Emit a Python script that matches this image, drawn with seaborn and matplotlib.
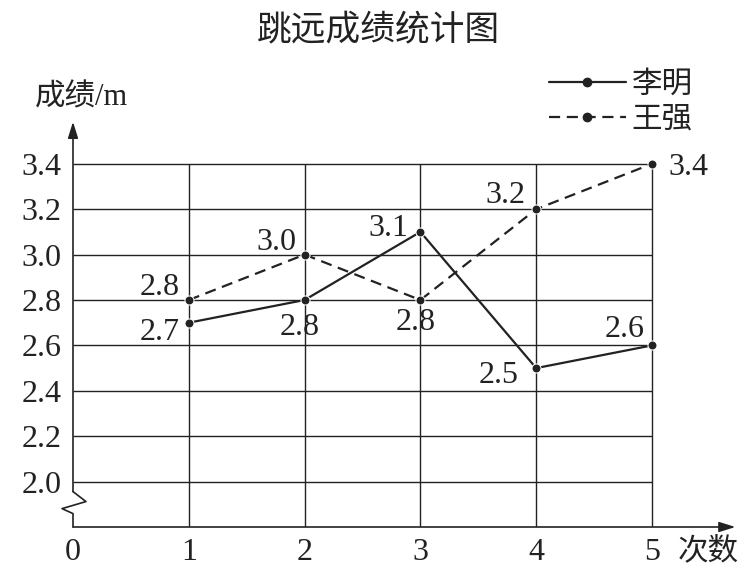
import matplotlib
matplotlib.use("Agg")
import matplotlib.pyplot as plt
import seaborn as sns
import pandas as pd
from matplotlib.lines import Line2D

# data
trials = [1, 2, 3, 4, 5]
li_ming = [2.7, 2.8, 3.1, 2.5, 2.6]
wang_qiang = [2.8, 3.0, 2.8, 3.2, 3.4]
names = ["李明", "王强"]
y_ticks = [2.0, 2.2, 2.4, 2.6, 2.8, 3.0, 3.2, 3.4]
y_tick_labels = ["2.0", "2.2", "2.4", "2.6", "2.8", "3.0", "3.2", "3.4"]
x_ticks = [0, 1, 2, 3, 4, 5]

df = pd.DataFrame({
    "次数": trials * 2,
    "成绩": li_ming + wang_qiang,
    "姓名": [names[0]] * 5 + [names[1]] * 5,
})

sns.set_theme(style="white")
plt.rcParams["font.family"] = ["Liberation Serif", "Noto Sans CJK SC"]

ink = "#222222"
fig = plt.figure(figsize=(7.56, 5.71), dpi=100)
ax = fig.add_axes([73 / 756, 44 / 571, 667 / 756, 417 / 571])
ax.set_xlim(0, 5.76)
ax.set_ylim(1.8, 3.637)
for s in ax.spines.values():
    s.set_visible(False)

# grid
ax.hlines(y_ticks, 0, 5, color=ink, lw=1.0, zorder=1)
ax.vlines(x_ticks[1:], 1.8, 3.4, color=ink, lw=1.0, zorder=1)

# axes with arrows and the break mark
arrow = dict(arrowstyle="-|>,head_length=0.7,head_width=0.22",
             color=ink, lw=1.2, mutation_scale=14, shrinkA=0, shrinkB=0)
ax.annotate("", xy=(5.72, 1.8), xytext=(0, 1.8), arrowprops=arrow, annotation_clip=False)
ax.annotate("", xy=(0, 3.585), xytext=(0, 1.956), arrowprops=arrow, annotation_clip=False)
ax.plot([0, 0, -0.095, 0.112, 0], [1.8, 1.859, 1.881, 1.912, 1.956],
        color=ink, lw=1.2, clip_on=False, zorder=2)

# lines
sns.lineplot(data=df, x="次数", y="成绩", style="姓名",
             dashes={"李明": "", "王强": (5, 3)},
             markers={"李明": "o", "王强": "o"},
             color=ink, linewidth=1.6, markersize=6.5, legend=False,
             ax=ax, zorder=3)

# value labels (pixel offsets, baseline aligned)
li_offsets = [(-9, -17, "right"), (-5, -35, "center"), (-12, -4, "right"),
              (-18, -15, "right"), (-7, 8, "right")]
wang_offsets = [(-9, 5, "right"), (-8, 5, "right"), (-5, -30, "center"),
                (-11, 6, "right"), (16, -11, "left")]
for vals, offs in [(li_ming, li_offsets), (wang_qiang, wang_offsets)]:
    for x, v, (dx, dy, ha) in zip(trials, vals, offs):
        ax.annotate(f"{v:.1f}", (x, v), xytext=(dx, dy), textcoords="offset pixels",
                    ha=ha, va="baseline", fontsize=23, color=ink)

# ticks
ax.set_xticks(x_ticks)
ax.set_xticklabels([str(t) for t in x_ticks])
ax.set_yticks(y_ticks)
ax.set_yticklabels(y_tick_labels)
ax.tick_params(axis="both", length=0, labelsize=23, colors=ink)
ax.tick_params(axis="y", pad=8)
ax.tick_params(axis="x", pad=8)
ax.set_xlabel("")
ax.set_ylabel("")

# axis captions and title
fig.text(35 / 756, 1 - 98 / 571, "成绩/m", fontsize=22, color=ink, ha="left", va="center")
fig.text(678 / 756, 1 - 552 / 571, "次数", fontsize=22, color=ink, ha="left", va="center")
fig.text(378 / 756, 1 - 30 / 571, "跳远成绩统计图", fontsize=25, color=ink,
         ha="center", va="center", family=["Noto Sans CJK SC"])

# legend
handles = [
    Line2D([], [], color=ink, lw=1.6, marker="o", markersize=6),
    Line2D([], [], color=ink, lw=1.6, marker="o", markersize=6, dashes=(5, 3)),
]
fig.legend(handles, names, loc="upper right", bbox_to_anchor=(705 / 756, 1 - 58 / 571),
           frameon=False, fontsize=22, handlelength=2.5, handletextpad=0.2,
           labelspacing=0.2, borderaxespad=0, labelcolor=ink)

fig.savefig("out.png", dpi=100)
